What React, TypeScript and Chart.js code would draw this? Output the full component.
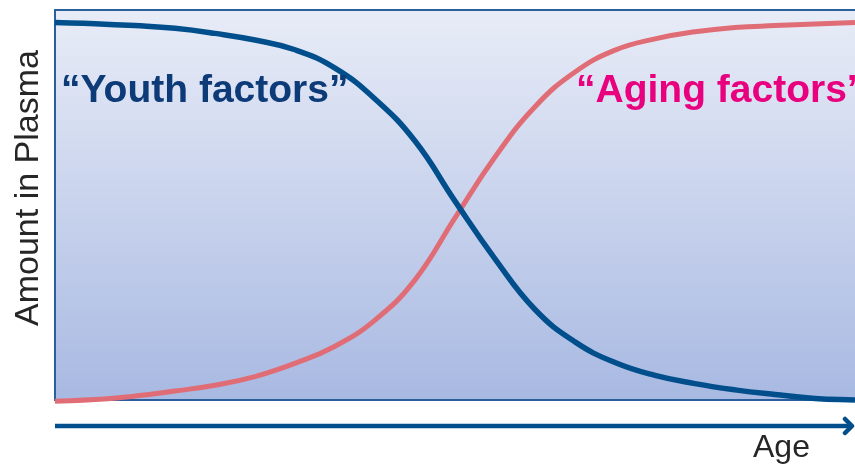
import React, { useEffect, useRef } from "react";
import { Chart, registerables } from "chart.js";

Chart.register(...registerables);

// Age (0 = young, 100 = old)
const ages = [0, 5, 10, 15, 20, 25, 30, 35, 40, 45, 50, 55, 60, 65, 70, 75, 80, 85, 90, 95, 100];
const youthAmount = [96.8, 96.5, 96.0, 95.3, 94.0, 92.3, 89.8, 85.1, 77.2, 66.4, 51.0, 36.2, 23.2, 14.9, 9.6, 6.3, 4.2, 2.6, 1.4, 0.4, 0];
const agingAmount = [-0.3, 0.1, 1.0, 2.3, 3.8, 6.0, 9.4, 13.8, 20.5, 30.8, 46.7, 62.3, 75.2, 84.1, 89.7, 92.6, 94.4, 95.5, 96.0, 96.4, 96.8];

const youthLabel = "\u201CYouth factors\u201D";
const agingLabel = "\u201CAging factors\u2019";
const yTitle = "Amount in Plasma";
const xTitle = "Age";

const BLUE = "#004f8c";
const PINK = "#e06d76";

const decorPlugin = {
  id: "decor",
  beforeDraw(chart: any) {
    const { ctx, chartArea } = chart;
    const { left, top, right, bottom } = chartArea;
    ctx.save();
    const g = ctx.createLinearGradient(0, top, 0, bottom);
    g.addColorStop(0, "#e8ecf7");
    g.addColorStop(1, "#a8b9e2");
    ctx.fillStyle = g;
    ctx.fillRect(left, top, right - left + 20, bottom - top);
    ctx.strokeStyle = "#2a5f9c";
    ctx.lineWidth = 2;
    ctx.strokeRect(left, top, right - left + 20, bottom - top);
    ctx.restore();
  },
  afterDatasetsDraw(chart: any) {
    const { ctx, chartArea } = chart;
    const { left, top, right, bottom } = chartArea;
    ctx.save();
    // labels inside
    ctx.font = "bold 39px 'Liberation Sans', Arial, sans-serif";
    ctx.textBaseline = "alphabetic";
    ctx.textAlign = "left";
    ctx.fillStyle = "#0d3b78";
    ctx.fillText(youthLabel, left + 6, top + 92);
    ctx.fillStyle = "#e8007e";
    ctx.fillText(agingLabel, left + 521, top + 92);

    // arrow axis
    const ay = bottom + 26;
    ctx.strokeStyle = BLUE;
    ctx.lineWidth = 4.5;
    ctx.beginPath();
    ctx.moveTo(left, ay);
    ctx.lineTo(right - 3, ay);
    ctx.stroke();
    ctx.lineCap = "round";
    ctx.lineJoin = "round";
    ctx.beginPath();
    ctx.moveTo(right - 10, ay - 7);
    ctx.lineTo(right - 3, ay);
    ctx.lineTo(right - 10, ay + 7);
    ctx.stroke();

    // axis titles
    ctx.fillStyle = "#262626";
    ctx.font = "32px 'Liberation Sans', Arial, sans-serif";
    ctx.textAlign = "left";
    ctx.fillText(xTitle, 753, bottom + 57);

    ctx.font = "34px 'Liberation Sans', Arial, sans-serif";
    ctx.translate(38, 188);
    ctx.rotate(-Math.PI / 2);
    ctx.textAlign = "center";
    ctx.fillText(yTitle, 0, 0);
    ctx.restore();
  },
};

export default function App() {
  const ref = useRef<HTMLCanvasElement | null>(null);
  useEffect(() => {
    document.body.style.margin = "0";
    const canvas = ref.current!;
    const chart = new Chart(canvas, {
      type: "line",
      data: {
        datasets: [
          {
            label: "Youth factors",
            data: ages.map((x, i) => ({ x, y: youthAmount[i] })),
            borderColor: BLUE,
            borderWidth: 5.5,
            pointRadius: 0,
            tension: 0.45,
            fill: false,
          },
          {
            label: "Aging factors",
            data: ages.map((x, i) => ({ x, y: agingAmount[i] })),
            borderColor: PINK,
            borderWidth: 5,
            pointRadius: 0,
            tension: 0.45,
            fill: false,
          },
        ],
      },
      options: {
        responsive: false,
        animation: false,
        devicePixelRatio: 1,
        clip: false as any,
        layout: { padding: { left: 55, top: 10, right: 0, bottom: 65 } },
        plugins: { legend: { display: false }, tooltip: { enabled: false } },
        scales: {
          x: { type: "linear", min: 0, max: 100, display: false },
          y: { type: "linear", min: 0, max: 100, display: false },
        },
      },
      plugins: [decorPlugin],
    });
    return () => chart.destroy();
  }, []);
  return (
    <div style={{ width: 855, height: 465, background: "#fff" }}>
      <canvas ref={ref} width={855} height={465} style={{ display: "block" }} />
    </div>
  );
}
